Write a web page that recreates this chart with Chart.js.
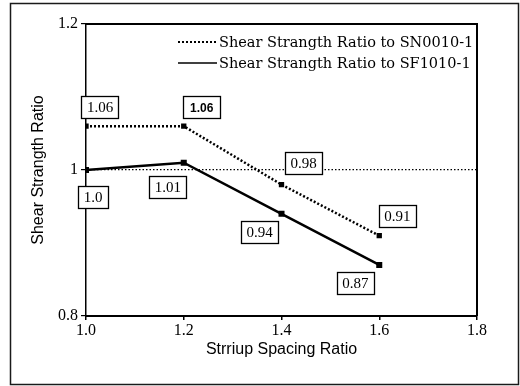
<!DOCTYPE html>
<html>
<head>
<meta charset="utf-8">
<script src="https://cdn.jsdelivr.net/npm/chart.js@4.4.0/dist/chart.umd.min.js"></script>
<style>
  html, body { margin: 0; padding: 0; background: #fff; }
  #wrap { width: 520px; height: 386px; }
</style>
</head>
<body>
<div id="wrap"><canvas id="ratioChart" width="520" height="386"></canvas></div>
<script>
// Stirrup spacing ratio (x) for each specimen
const spacingRatio = [1.0, 1.2, 1.4, 1.6];
// Shear strength ratio normalised by the two reference specimens
const ratioToSN = [1.06, 1.06, 0.98, 0.91];
const ratioToSF = [1.0, 1.01, 0.94, 0.87];
const seriesNames = ['Shear Strangth Ratio to SN0010-1', 'Shear Strangth Ratio to SF1010-1'];
// Axis ticks
const xTicks = [1.0, 1.2, 1.4, 1.6, 1.8];
const yTicks = [0.8, 1.0, 1.2];

const SERIF = "'Liberation Serif', 'Times New Roman', serif";
const SANS = "'Liberation Sans', Arial, sans-serif";

const toPoints = ys => spacingRatio.map((x, i) => ({ x: x, y: ys[i] }));
const fmtValue = v => Number.isInteger(v) ? v.toFixed(1) : String(v);

// white page with a thin outer border, plus the top/right edges of the plot box
const framePlugin = {
    id: 'frame',
    beforeDraw(chart) {
        const { ctx, width, height } = chart;
        ctx.save();
        ctx.fillStyle = '#fff';
        ctx.fillRect(0, 0, width, height);
        ctx.strokeStyle = '#1a1a1a';
        ctx.lineWidth = 1.5;
        ctx.strokeRect(10.5, 3.5, width - 12, height - 5);
        ctx.restore();
    },
    beforeDatasetsDraw(chart) {
        const { ctx, chartArea: a } = chart;
        ctx.save();
        ctx.strokeStyle = '#000';
        ctx.lineWidth = 2;
        ctx.beginPath();
        ctx.moveTo(a.left, a.top);
        ctx.lineTo(a.right, a.top);
        ctx.lineTo(a.right, a.bottom);
        ctx.stroke();
        ctx.restore();
    }
};

// legend sitting inside the top-right corner of the plot
const insideLegend = {
    id: 'insideLegend',
    afterDraw(chart) {
        const { ctx, chartArea: a } = chart;
        const x0 = a.left + 92;
        const rows = [a.top + 18, a.top + 39];
        ctx.save();
        chart.data.datasets.forEach((ds, i) => {
            const y = rows[i];
            ctx.strokeStyle = '#000';
            ctx.lineWidth = ds.borderDash.length ? 2 : 1.5;
            ctx.setLineDash(ds.borderDash);
            ctx.beginPath();
            ctx.moveTo(x0, y);
            ctx.lineTo(x0 + 39, y);
            ctx.stroke();
            ctx.setLineDash([]);
            ctx.fillStyle = '#000';
            ctx.font = "14.5px 'DejaVu Serif', serif";
            ctx.textBaseline = 'middle';
            ctx.textAlign = 'left';
            ctx.fillText(ds.label, x0 + 41, y + 1);
        });
        ctx.restore();
    }
};

// boxed value labels next to every point
const valueBoxes = {
    id: 'valueBoxes',
    afterDatasetsDraw(chart, args, opts) {
        const { ctx } = chart;
        ctx.save();
        chart.data.datasets.forEach((ds, di) => {
            const meta = chart.getDatasetMeta(di);
            meta.data.forEach((pt, i) => {
                const [dx, dy] = opts.offsets[di][i];
                const bold = opts.bold[di] === i;
                const text = fmtValue(ds.data[i].y);
                ctx.font = bold ? 'bold 12px ' + SANS : '15px ' + SERIF;
                const w = ctx.measureText(text).width + (bold ? 14 : 11);
                const h = 22;
                const cx = pt.x + dx, cy = pt.y + dy;
                ctx.fillStyle = '#fff';
                ctx.fillRect(cx - w / 2, cy - h / 2, w, h);
                ctx.strokeStyle = '#000';
                ctx.lineWidth = 1.3;
                ctx.strokeRect(Math.round(cx - w / 2) + 0.5, Math.round(cy - h / 2) + 0.5, Math.round(w), h);
                ctx.fillStyle = '#000';
                ctx.textAlign = 'center';
                ctx.textBaseline = 'middle';
                ctx.fillText(text, cx, cy + 1);
            });
        });
        ctx.restore();
    }
};

new Chart(document.getElementById('ratioChart'), {
    type: 'line',
    data: {
        datasets: [
            {
                label: seriesNames[0],
                data: toPoints(ratioToSN),
                borderColor: '#000',
                backgroundColor: '#000',
                borderWidth: 2.5,
                borderDash: [2, 2],
                pointStyle: 'rect',
                pointRadius: 2,
                tension: 0
            },
            {
                label: seriesNames[1],
                data: toPoints(ratioToSF),
                borderColor: '#000',
                backgroundColor: '#000',
                borderWidth: 2.5,
                borderDash: [],
                pointStyle: 'rect',
                pointRadius: 2.5,
                tension: 0
            }
        ]
    },
    options: {
        responsive: false,
        animation: false,
        devicePixelRatio: 1,
        layout: { padding: { left: 20, top: 24, right: 43, bottom: 20 } },
        plugins: {
            legend: { display: false },
            tooltip: { enabled: false },
            valueBoxes: {
                offsets: [
                    [[14, -19], [18, -19], [22, -22], [18, -20]],
                    [[7, 27], [-16, 24], [-22, 18], [-24, 18]]
                ],
                bold: [1, -1]
            }
        },
        scales: {
            x: {
                type: 'linear',
                min: 1.0,
                max: 1.8,
                afterBuildTicks: s => { s.ticks = xTicks.map(v => ({ value: v })); },
                afterFit: s => { s.height = 50; },
                ticks: {
                    color: '#000',
                    padding: 1,
                    font: { family: SERIF, size: 16 },
                    callback: v => Number(v).toFixed(1)
                },
                grid: { color: 'transparent', tickColor: '#000', tickLength: 4, lineWidth: 1.5 },
                border: { display: true, color: '#000', width: 2 },
                title: {
                    display: true,
                    text: 'Strriup Spacing Ratio',
                    color: '#000',
                    font: { family: SANS, size: 16 },
                    padding: { bottom: 7 }
                }
            },
            y: {
                min: 0.8,
                max: 1.2,
                afterBuildTicks: s => { s.ticks = yTicks.map(v => ({ value: v })); },
                afterFit: s => { s.width = 66; },
                ticks: {
                    color: '#000',
                    padding: 3,
                    font: { family: SERIF, size: 16 },
                    callback: v => String(Number(Number(v).toFixed(1)))
                },
                grid: {
                    color: c => (c.tick && Math.abs(c.tick.value - 1) < 1e-6) ? '#000' : 'transparent',
                    tickColor: '#000',
                    tickLength: 5,
                    lineWidth: 1.2
                },
                border: { display: true, color: '#000', width: 1.5, dash: [1.5, 2] },
                title: {
                    display: true,
                    text: 'Shear Strangth Ratio',
                    color: '#000',
                    font: { family: SANS, size: 16 },
                    padding: { top: 9 }
                }
            }
        }
    },
    plugins: [framePlugin, valueBoxes, insideLegend]
});
</script>
</body>
</html>
